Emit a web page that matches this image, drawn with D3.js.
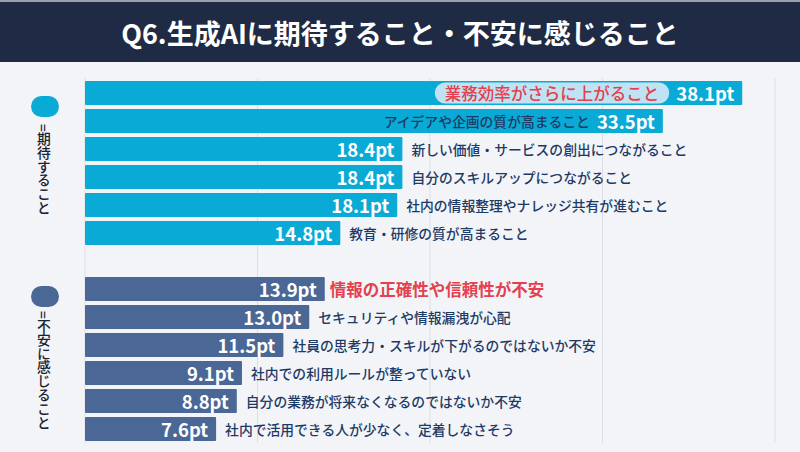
<!DOCTYPE html>
<html>
<head>
<meta charset="utf-8">
<script src="https://cdn.jsdelivr.net/npm/d3@7"></script>
<style>
  html, body { margin: 0; padding: 0; background: #f2f4f8; }
  svg { display: block; font-family: "Noto Sans CJK JP", "Noto Sans", sans-serif; }
</style>
</head>
<body>
<div id="chart"></div>
<script>
var title = "Q6.生成AIに期待すること・不安に感じること";

var expectLabels = [
  "業務効率がさらに上がること",
  "アイデアや企画の質が高まること",
  "新しい価値・サービスの創出につながること",
  "自分のスキルアップにつながること",
  "社内の情報整理やナレッジ共有が進むこと",
  "教育・研修の質が高まること"
];
var expectValues = [38.1, 33.5, 18.4, 18.4, 18.1, 14.8];

var concernLabels = [
  "情報の正確性や信頼性が不安",
  "セキュリティや情報漏洩が心配",
  "社員の思考力・スキルが下がるのではないか不安",
  "社内での利用ルールが整っていない",
  "自分の業務が将来なくなるのではないか不安",
  "社内で活用できる人が少なく、定着しなさそう"
];
var concernValues = [13.9, 13.0, 11.5, 9.1, 8.8, 7.6];

var legendLabels = ["=期待すること", "=不安に感じること"];
var gridTicks = [0, 10, 20, 30, 40];

var width = 800,
    height = 452

var svg = d3.select("#chart").append("svg")
    .attr("width", width)
    .attr("height", height)

svg.append("rect")
    .attr("width", width)
    .attr("height", height)
    .attr("fill", "#f2f4f8")

// title band
svg.append("rect")
    .attr("x", 0).attr("y", 0)
    .attr("width", width).attr("height", 62)
    .attr("fill", "#1f2b45")
svg.append("rect")
    .attr("x", 0).attr("y", 0)
    .attr("width", width).attr("height", 2)
    .attr("fill", "#9aa1ad")
svg.append("text")
    .attr("x", 400)
    .attr("y", 32)
    .attr("text-anchor", "middle")
    .attr("dominant-baseline", "central")
    .attr("fill", "#ffffff")
    .attr("font-size", 27)
    .attr("font-weight", 700)
    .text(title)

var x = d3.scaleLinear().domain([0, 40]).range([85, 775]);

// grid lines
svg.append("g")
  .selectAll("line")
  .data(gridTicks)
  .join("line")
    .attr("x1", function(d) { return x(d); })
    .attr("x2", function(d) { return x(d); })
    .attr("y1", 78)
    .attr("y2", 443)
    .attr("stroke", "#dcdfe5")
    .attr("stroke-width", 1)

var groups = [
  { labels: expectLabels, values: expectValues, range: [79, 247], color: "#0aaad6", legendY: 96, textY: 124 },
  { labels: concernLabels, values: concernValues, range: [275, 443], color: "#4b6795", legendY: 286, textY: 311 }
];

groups.forEach(function(grp, gi) {
    var y = d3.scaleBand()
        .domain(d3.range(grp.values.length))
        .range(grp.range)
        .paddingInner(4 / 28)
        .paddingOuter(2 / 28)

    var g = svg.append("g")

    var rows = g.selectAll("g.row")
        .data(grp.values)
        .join("g")
        .attr("class", "row")

    rows.append("rect")
        .attr("x", x(0))
        .attr("y", function(d, i) { return y(i); })
        .attr("width", function(d) { return x(d) - x(0); })
        .attr("height", y.bandwidth())
        .attr("rx", 1)
        .attr("fill", grp.color)

    rows.each(function(d, i) {
        var row = d3.select(this);
        var cy = y(i) + y.bandwidth() / 2;
        var end = x(d);

        var val = row.append("text")
            .attr("x", end - 8)
            .attr("y", cy)
            .attr("text-anchor", "end")
            .attr("dominant-baseline", "central")
            .attr("fill", "#ffffff")
            .attr("font-size", 18.5)
            .attr("font-weight", 700)
            .text(d.toFixed(1) + "pt")
        var valW = val.node().getComputedTextLength();
        var valStart = end - 8 - valW;

        var label = grp.labels[i];
        if (gi === 0 && i === 0) {
            // highlighted label inside the bar
            var t = row.append("text")
                .attr("y", cy)
                .attr("text-anchor", "end")
                .attr("dominant-baseline", "central")
                .attr("fill", "#e5404d")
                .attr("font-size", 16.5)
                .attr("font-weight", 500)
                .text(label)
            var tw = t.node().getComputedTextLength();
            var pillR = valStart - 7;
            row.insert("rect", "text")
                .attr("x", pillR - tw - 20)
                .attr("y", cy - 10.5)
                .attr("width", tw + 20)
                .attr("height", 21)
                .attr("rx", 10.5)
                .attr("fill", "#bfe3f3")
            t.attr("x", pillR - 10)
        } else if (gi === 0 && i === 1) {
            row.append("text")
                .attr("x", valStart - 7)
                .attr("y", cy)
                .attr("text-anchor", "end")
                .attr("dominant-baseline", "central")
                .attr("fill", "#1d3a66")
                .attr("font-size", 13.8)
                .attr("font-weight", 500)
                .text(label)
        } else if (gi === 1 && i === 0) {
            row.append("text")
                .attr("x", end + 5)
                .attr("y", cy)
                .attr("dominant-baseline", "central")
                .attr("fill", "#e5404d")
                .attr("font-size", 16.5)
                .attr("font-weight", 700)
                .text(label)
        } else {
            row.append("text")
                .attr("x", end + 9)
                .attr("y", cy)
                .attr("dominant-baseline", "central")
                .attr("fill", "#1d3a66")
                .attr("font-size", 13.8)
                .attr("font-weight", 500)
                .text(label)
        }
    })

    // legend
    svg.append("rect")
        .attr("x", 31)
        .attr("y", grp.legendY)
        .attr("width", 28)
        .attr("height", 21)
        .attr("rx", 10.5)
        .attr("fill", grp.color)
    svg.append("text")
        .attr("x", 44)
        .attr("y", grp.textY)
        .attr("fill", "#1a2230")
        .attr("font-size", 13.8)
        .attr("font-weight", 500)
        .attr("letter-spacing", 0)
        .style("writing-mode", "vertical-rl")
        .text(legendLabels[gi])
});
</script>
</body>
</html>
